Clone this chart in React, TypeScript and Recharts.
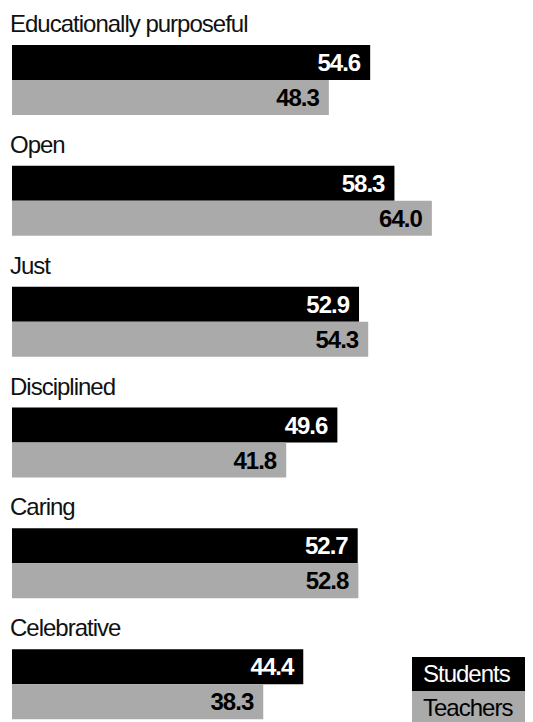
import { BarChart, Bar, XAxis, YAxis, LabelList } from "recharts";

const categories = [
  "Educationally purposeful",
  "Open",
  "Just",
  "Disciplined",
  "Caring",
  "Celebrative",
];
const students = [54.6, 58.3, 52.9, 49.6, 52.7, 44.4];
const teachers = [48.3, 64.0, 54.3, 41.8, 52.8, 38.3];
const seriesNames = ["Students", "Teachers"];
const seriesColors = ["#000000", "#aaaaaa"];
const labelColors = ["#ffffff", "#000000"];

const FONT = '"Liberation Sans", Arial, sans-serif';

const data = categories.map((name, i) => ({
  name,
  students: students[i],
  teachers: teachers[i],
}));

// category name drawn just above the first bar of each pair
function CategoryLabel(props: any) {
  const { x, y, value } = props;
  return (
    <text
      x={x - 2}
      y={y - 13}
      fontFamily={FONT}
      fontSize={24}
      letterSpacing={-1}
      fill="#111"
    >
      {value}
    </text>
  );
}

export default function App() {
  const keys = ["students", "teachers"];
  return (
    <div style={{ position: "relative", width: 525, height: 714, overflow: "hidden" }}>
      <BarChart
        width={525}
        height={737}
        data={data}
        layout="vertical"
        barGap={0}
        margin={{ top: 12, right: 29, left: 4, bottom: 0 }}
      >
        <XAxis type="number" domain={[0, 75]} hide />
        <YAxis type="category" dataKey="name" hide />
        {keys.map((k, i) => (
          <Bar
            key={k}
            dataKey={k}
            name={seriesNames[i]}
            fill={seriesColors[i]}
            barSize={35}
            isAnimationActive={false}
          >
            <LabelList
              dataKey={k}
              position="insideRight"
              offset={10}
              fill={labelColors[i]}
              fontFamily={FONT}
              fontSize={24}
              fontWeight="bold"
              letterSpacing={-1}
              formatter={(v: any) => Number(v).toFixed(1)}
            />
            {i === 0 && <LabelList dataKey="name" content={<CategoryLabel />} />}
          </Bar>
        ))}
      </BarChart>
      {/* legend block, cut off by the page edge like the original */}
      <div style={{ position: "absolute", left: 404, top: 649, width: 130 }}>
        {seriesNames.map((s, i) => (
          <div
            key={s}
            style={{
              background: seriesColors[i],
              color: labelColors[i],
              height: 34,
              lineHeight: "34px",
              paddingLeft: 11,
              fontFamily: FONT,
              fontSize: 24,
              letterSpacing: -1,
            }}
          >
            {s}
          </div>
        ))}
      </div>
    </div>
  );
}
